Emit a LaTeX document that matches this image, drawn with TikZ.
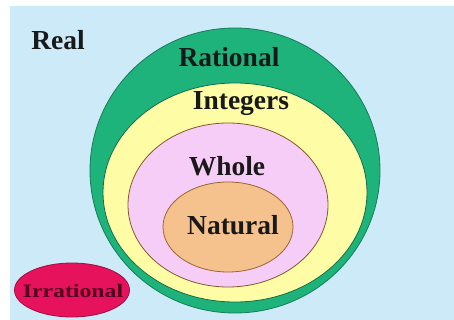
\documentclass[tikz,border=0pt]{standalone}
\usepackage{fontspec}
\setmainfont{Liberation Serif}
\usetikzlibrary{shapes.geometric}
\begin{document}
\begin{tikzpicture}[x=1pt,y=-1pt,
  setring/.style={line width=0.8pt, ellipse, inner sep=0pt},
  lbl/.style={font=\bfseries\fontsize{27.5}{31}\selectfont, text=black!90, inner sep=0pt}]
\definecolor{bgblue}{HTML}{CDEAF8}
\definecolor{ratgreen}{HTML}{1FB37C}
\definecolor{intyellow}{HTML}{FFFCA6}
\definecolor{wholepink}{HTML}{F6CDF6}
\definecolor{natorange}{HTML}{F5C28E}
\definecolor{irrred}{HTML}{E6125C}
\useasboundingbox (0,0) rectangle (454,320);
\fill[white] (0,0) rectangle (454,320);
\fill[bgblue] (10,6) rectangle (454,320);
\node[setring, draw=ratgreen!70!black, fill=ratgreen, minimum width=290pt, minimum height=285pt] (rat) at (235,170.5) {};
\node[setring, draw=ratgreen!60!black, fill=intyellow, minimum width=264pt, minimum height=219pt] (int) at (235,192.5) {};
\node[setring, draw=brown!70!black, fill=wholepink, minimum width=200pt, minimum height=164pt] (whole) at (228,205) {};
\node[setring, draw=brown!80!black, fill=natorange, minimum width=130pt, minimum height=90pt] (nat) at (228,227) {};
\node[setring, draw=irrred!70!black, fill=irrred, minimum width=115pt, minimum height=54pt] (irr) at (72,290) {};
\node[lbl] (lreal) at (58,40) {Real};
\node[lbl] (lrat) at (229,57) {Rational};
\node[lbl] (lint) at (241,104) {Integers};
\node[lbl] (lwhole) at (227,166) {Whole};
\node[lbl] (lnat) at (233,225) {Natural};
\node[lbl, font=\bfseries\fontsize{19}{22}\selectfont, text={rgb,255:red,80;green,0;blue,30}, xscale=1.25] (lirr) at (73,291) {Irrational};
\end{tikzpicture}
\end{document}
